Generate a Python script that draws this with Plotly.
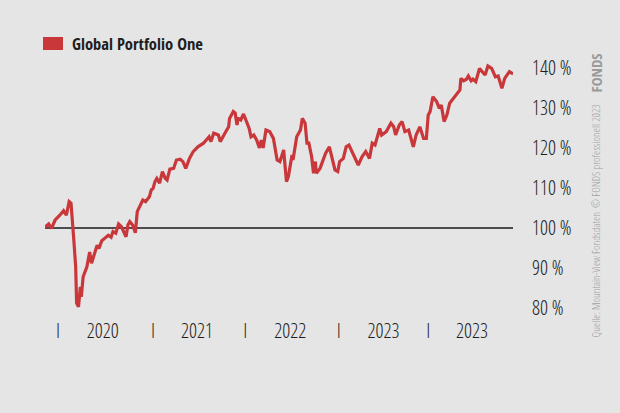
import plotly.graph_objects as go

# decimal years
years = [2019.86, 2019.90, 2019.93, 2019.97, 2020.02, 2020.06, 2020.09, 2020.12, 2020.14, 2020.16,
         2020.17, 2020.19, 2020.20, 2020.22, 2020.24, 2020.25, 2020.27, 2020.31, 2020.34, 2020.36,
         2020.40, 2020.42, 2020.44, 2020.47, 2020.50, 2020.54, 2020.57, 2020.59, 2020.62, 2020.65,
         2020.68, 2020.70, 2020.73, 2020.75, 2020.77, 2020.80, 2020.83, 2020.85, 2020.88, 2020.91,
         2020.94, 2020.98, 2021.00, 2021.02, 2021.04, 2021.06, 2021.09, 2021.12, 2021.15, 2021.17,
         2021.20, 2021.24, 2021.27, 2021.31, 2021.34, 2021.37, 2021.41, 2021.45, 2021.50, 2021.56,
         2021.59, 2021.62, 2021.64, 2021.67, 2021.72, 2021.74, 2021.79, 2021.83, 2021.84, 2021.88,
         2021.90, 2021.92, 2021.93, 2021.96, 2021.99, 2022.02, 2022.05, 2022.07, 2022.10, 2022.13,
         2022.16, 2022.18, 2022.20, 2022.23, 2022.27, 2022.31, 2022.35, 2022.38, 2022.42, 2022.45,
         2022.47, 2022.51, 2022.52, 2022.56, 2022.60, 2022.62, 2022.65, 2022.67, 2022.69, 2022.72,
         2022.74, 2022.76, 2022.77, 2022.81, 2022.85, 2022.87, 2022.91, 2022.94, 2022.97, 2023.00,
         2023.02, 2023.06, 2023.09, 2023.12, 2023.15, 2023.18, 2023.22, 2023.26, 2023.30, 2023.34,
         2023.37, 2023.40, 2023.45, 2023.47, 2023.52, 2023.57, 2023.60, 2023.62, 2023.66, 2023.69,
         2023.72, 2023.76, 2023.79, 2023.81, 2023.84, 2023.88, 2023.92, 2023.95, 2023.97, 2023.99,
         2024.02, 2024.06, 2024.09, 2024.11, 2024.14, 2024.17, 2024.20, 2024.24, 2024.28, 2024.31,
         2024.32, 2024.35, 2024.38, 2024.40, 2024.43, 2024.45, 2024.48, 2024.52, 2024.54, 2024.58,
         2024.61, 2024.65, 2024.69, 2024.72, 2024.76, 2024.79, 2024.84, 2024.88]

# performance in %
values = [100.2, 101.0, 99.9, 102.0, 103.2, 104.3, 103.2, 106.6, 106.2, 97.8,
          97.0, 90.3, 81.2, 80.3, 85.3, 82.8, 87.8, 90.3, 94.0, 91.2,
          94.5, 95.7, 94.9, 96.8, 97.4, 98.2, 97.7, 99.1, 98.7, 101.0,
          100.3, 99.1, 97.8, 100.75, 101.6, 100.75, 98.8, 104.1, 105.75, 107.0,
          106.6, 107.8, 109.5, 109.9, 111.6, 112.4, 111.2, 114.1, 112.4, 112.0,
          114.7, 114.9, 117.0, 117.2, 116.6, 114.9, 117.4, 119.1, 120.3, 121.2,
          122.0, 122.8, 121.6, 123.7, 123.25, 121.6, 123.7, 125.3, 127.4, 129.1,
          128.7, 125.75, 127.4, 127.0, 128.5, 126.6, 124.9, 122.8, 123.25, 122.0,
          120.0, 122.0, 120.0, 124.5, 124.1, 122.4, 117.0, 116.6, 119.5, 111.6,
          112.8, 118.25, 117.0, 122.8, 124.5, 127.4, 126.2, 121.2, 121.2, 117.8,
          113.7, 116.6, 113.7, 114.9, 117.8, 118.7, 120.3, 117.0, 114.5, 114.1,
          116.6, 117.4, 120.3, 120.75, 119.1, 117.8, 115.75, 117.8, 119.1, 117.4,
          121.2, 120.75, 124.9, 123.25, 124.1, 126.2, 125.3, 123.25, 125.75, 126.6,
          124.1, 124.5, 122.0, 120.3, 123.25, 125.3, 122.4, 122.4, 128.25, 129.1,
          132.8, 131.6, 129.9, 130.75, 126.6, 128.25, 131.2, 132.4, 133.7, 134.5,
          137.4, 136.8, 137.2, 138.0, 136.8, 137.2, 136.6, 139.9, 139.3, 138.25,
          140.5, 139.9, 137.8, 138.0, 134.9, 137.4, 139.1, 138.5]

series_name = "Global Portfolio One"
y_ticks = [80, 90, 100, 110, 120, 130, 140]
y_tick_labels = ["80 %", "90 %", "100 %", "110 %", "120 %", "130 %", "140 %"]
x_sep_ticks = [2020.0, 2021.02, 2022.01, 2023.01, 2023.97]
x_label_ticks = [2020.48, 2021.49, 2022.49, 2023.49, 2024.44]
x_labels = ["2020", "2021", "2022", "2023", "2023"]
source_text = "Quelle: Mountain-View Fondsdaten  © FONDS professionell 2023"
logo_text = "FONDS"

FONT_L = "Open Sans Condensed Light, Roboto Condensed, DejaVu Sans Condensed, sans-serif"
FONT_B = "Open Sans Condensed, Roboto Condensed, DejaVu Sans Condensed, sans-serif"
RED = "#c9373a"
BG = "#e5e5e5"
TXT = "#1e1e1e"

tickvals = x_sep_ticks + x_label_ticks
ticktext = ["I"] * len(x_sep_ticks) + x_labels

fig = go.Figure()
fig.add_trace(go.Scatter(x=years, y=values, mode="lines", name=series_name,
                         line=dict(color=RED, width=3.2), showlegend=False))

fig.add_hline(y=100, line=dict(color="#1a1a1a", width=1.5), layer="below")

fig.update_layout(
    width=620, height=413,
    paper_bgcolor=BG, plot_bgcolor=BG,
    margin=dict(l=45, r=107, t=50, b=101),
    font=dict(family=FONT_L, color=TXT, size=19),
    xaxis=dict(range=[2019.861, 2024.879], showgrid=False, zeroline=False,
               showline=False, tickvals=tickvals, ticktext=ticktext,
               ticks="", ticklabelstandoff=5,
               tickfont=dict(family=FONT_L, size=20, color=TXT)),
    yaxis=dict(range=[79, 144.5], side="right", showgrid=False, zeroline=False,
               showline=False, tickvals=y_ticks, ticktext=y_tick_labels,
               ticks="", ticklabelstandoff=18,
               tickfont=dict(family=FONT_L, size=20, color=TXT)),
    showlegend=False,
)

# legend-like header
fig.add_shape(type="rect", xref="paper", yref="paper",
              x0=-2 / 468, x1=18 / 468, y0=(312 - 50) / 262, y1=(312 - 37) / 262,
              fillcolor=RED, line=dict(width=0))
fig.add_annotation(text=series_name, xref="paper", yref="paper",
                   x=25 / 468, y=(312 - 43.5) / 262, xanchor="left", yanchor="middle",
                   showarrow=False,
                   font=dict(family=FONT_B, size=16.5, weight=700, color=TXT))

# source text
fig.add_annotation(text=source_text,
                   xref="paper", yref="paper", x=(595 - 45) / 468, y=(312 - 340) / 262,
                   xanchor="center", yanchor="bottom", textangle=-90, showarrow=False,
                   font=dict(family=FONT_L, size=11, color="#a0a0a0"))
fig.add_annotation(text=logo_text,
                   xref="paper", yref="paper", x=(595 - 45) / 468, y=(312 - 52) / 262,
                   xanchor="center", yanchor="top", textangle=-90, showarrow=False,
                   font=dict(family=FONT_B, size=15, weight=700, color="#9a9a9a"))

fig.write_html("out.html", config={"displayModeBar": False},
               post_script="document.body.style.margin='0';document.body.style.background='#e5e5e5';")
